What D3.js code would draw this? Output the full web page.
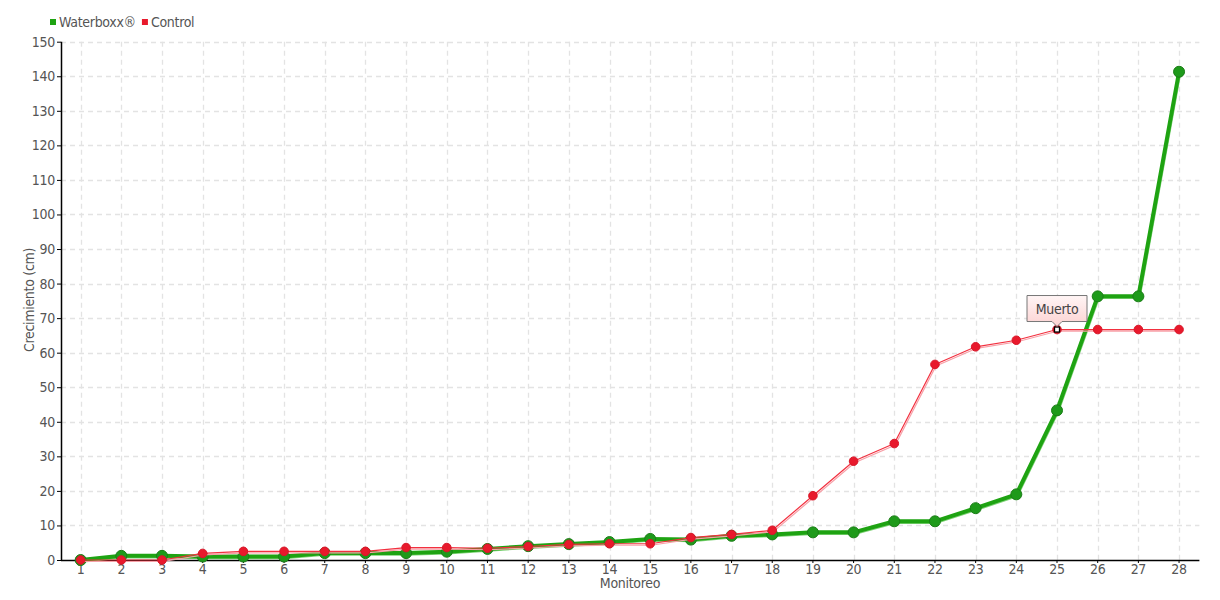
<!DOCTYPE html>
<html>
<head>
<meta charset="utf-8">
<script src="https://cdn.jsdelivr.net/npm/d3@7"></script>
<style>
  html, body { margin: 0; padding: 0; background: #fff; }
  svg text { font-family: "DejaVu Sans Condensed", "Liberation Sans Narrow", sans-serif; font-stretch: condensed; fill: #555; letter-spacing: -0.3px; }
</style>
</head>
<body>
<svg id="chart" width="1220" height="600"></svg>
<script>
const categories = d3.range(1, 29).map(String);
const waterboxx = [0, 1.2, 1.2, 1, 1, 1, 2, 2, 2, 2.4, 3.2, 4, 4.6, 5.2, 6.1, 5.9, 7, 7.4, 8, 8, 11.2, 11.2, 15, 19, 43.3, 76.3, 76.3, 141.3];
const control = [0, 0, 0, 1.9, 2.5, 2.5, 2.5, 2.5, 3.6, 3.6, 3.4, 3.9, 4.5, 4.7, 4.7, 6.5, 7.4, 8.6, 18.6, 28.6, 33.7, 56.6, 61.7, 63.6, 66.7, 66.7, 66.7, 66.7];
const yTicks = d3.range(0, 151, 10);
const seriesNames = ["Waterboxx®", "Control"];
const annotation = { category: "25", label: "Muerto" };

const svg = d3.select("#chart");
const plotLeft = 61, plotRight = 1199.4, plotTop = 41.7, plotBottom = 560;

const x = d3.scaleBand().domain(categories).range([60.3, 1199.4]);
const cx = c => x(c) + x.bandwidth() / 2;
const y = d3.scaleLinear().domain([0, 150]).range([plotBottom, plotTop]);

// grid
const grid = svg.append("g");
grid.selectAll(".hg").data(yTicks.filter(d => d > 0)).join("line")
  .attr("x1", plotLeft).attr("x2", plotRight)
  .attr("y1", d => Math.round(y(d)) + 0.5).attr("y2", d => Math.round(y(d)) + 0.5)
  .attr("stroke", "#e3e3e3").attr("stroke-width", 1.3).attr("stroke-dasharray", "5,4");
grid.selectAll(".vg").data(categories).join("line")
  .attr("x1", d => Math.round(cx(d)) + 0.5).attr("x2", d => Math.round(cx(d)) + 0.5)
  .attr("y1", plotTop).attr("y2", plotBottom)
  .attr("stroke", "#e3e3e3").attr("stroke-width", 1.3).attr("stroke-dasharray", "5,4");

// axes
const yAxis = svg.append("g").attr("transform", `translate(${plotLeft},0)`)
  .call(d3.axisLeft(y).tickValues(yTicks).tickSize(4).tickPadding(2));
yAxis.select(".domain").attr("stroke", "#000").attr("stroke-width", 1.5).attr("d", `M0.5,${plotTop}V${plotBottom}`);
yAxis.selectAll(".tick line").attr("stroke", "#000");
yAxis.selectAll(".tick text").attr("font-size", 14).style("fill", "#555");

const xAxis = svg.append("g").attr("transform", `translate(0,${plotBottom})`)
  .call(d3.axisBottom(x).tickSize(3).tickPadding(1));
xAxis.select(".domain").attr("stroke", "#000").attr("stroke-width", 1.5).attr("d", `M${plotLeft},0.5H${plotRight}`);
xAxis.selectAll(".tick line").attr("stroke", "#000");
xAxis.selectAll(".tick text").attr("font-size", 14).style("fill", "#555");

// axis titles
svg.append("text").attr("x", 630).attr("y", 588).attr("text-anchor", "middle")
  .attr("font-size", 14).text("Monitoreo");
svg.append("text").attr("transform", "translate(34,300) rotate(-90)").attr("text-anchor", "middle")
  .attr("font-size", 14).text("Crecimiento (cm)");

// series
const line = d3.line().x((d, i) => cx(categories[i])).y(d => y(d));

function drawSeries(values, color, shadow, width, r, fill, stroke) {
  const g = svg.append("g");
  g.append("path").datum(values).attr("d", line).attr("fill", "none")
    .attr("stroke", shadow).attr("stroke-width", Math.max(1.2, width * 0.6))
    .attr("transform", "translate(1,1.5)");
  g.append("path").datum(values).attr("d", line).attr("fill", "none")
    .attr("stroke", color).attr("stroke-width", width).attr("stroke-linejoin", "round");
  g.selectAll("circle").data(values).join("circle")
    .attr("cx", (d, i) => cx(categories[i])).attr("cy", d => y(d)).attr("r", r)
    .attr("fill", fill).attr("stroke", stroke).attr("stroke-width", 1);
}
drawSeries(waterboxx, "#1ea312", "#7fd277", 4, 5.5, "#1e9a1a", "#1b7d17");
drawSeries(control, "#f2303f", "#f7a0a8", 1.2, 4.3, "#e8192c", "#d81628");

// annotation
const ax = cx(annotation.category);
const ay = y(control[categories.indexOf(annotation.category)]);
svg.append("rect").attr("x", ax - 2.5).attr("y", ay - 2.5).attr("width", 5).attr("height", 5)
  .attr("fill", "#fff").attr("stroke", "#000").attr("stroke-width", 1.3);
const defs = svg.append("defs");
const grad = defs.append("linearGradient").attr("id", "tipg").attr("x1", 0).attr("y1", 0).attr("x2", 0).attr("y2", 1);
grad.append("stop").attr("offset", "0%").attr("stop-color", "#fff5f5");
grad.append("stop").attr("offset", "100%").attr("stop-color", "#fcd2d2");
const bw = 60, bh = 26, bx = ax - 30, by = ay - 34;
svg.append("path")
  .attr("d", `M${bx},${by} H${bx + bw} V${by + bh} H${ax + 5} L${ax},${by + bh + 5} L${ax - 5},${by + bh} H${bx} Z`)
  .attr("fill", "url(#tipg)").attr("stroke", "#777").attr("stroke-width", 1);
svg.append("text").attr("x", ax).attr("y", by + 18).attr("text-anchor", "middle")
  .attr("font-size", 14).style("fill", "#444").text(annotation.label);

// legend
const legend = svg.append("g");
const legendColors = ["#1ea312", "#e8192c"];
let lx = 50;
seriesNames.forEach((name, i) => {
  legend.append("rect").attr("x", lx).attr("y", 19).attr("width", 6).attr("height", 6).attr("fill", legendColors[i]);
  const t = legend.append("text").attr("x", lx + 9).attr("y", 27).attr("font-size", 14).text(name);
  lx += 9 + t.node().getComputedTextLength() + 6;
});
</script>
</body>
</html>
